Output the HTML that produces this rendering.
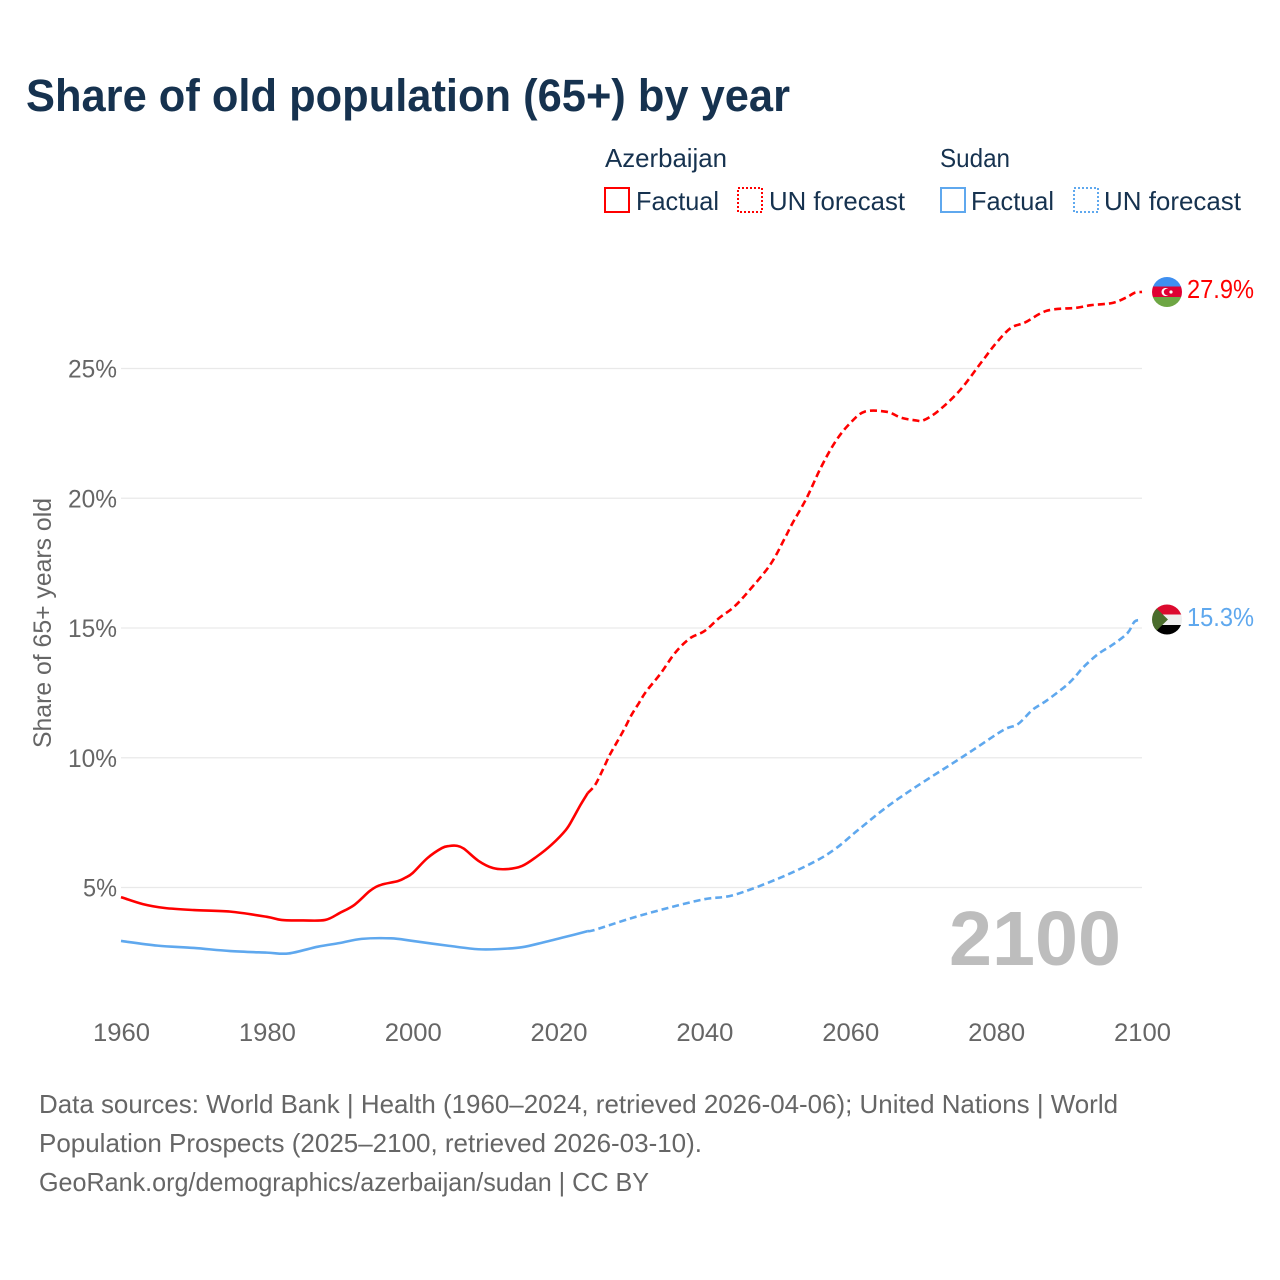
<!DOCTYPE html>
<html lang="en">
<head>
<meta charset="utf-8">
<title>Share of old population (65+) by year</title>
<style>
html,body{margin:0;padding:0;background:#fff;}
svg{display:block;}
text{font-family:"Liberation Sans",sans-serif;}
</style>
</head>
<body>
<svg id="chart" xmlns="http://www.w3.org/2000/svg" width="1280" height="1280" viewBox="0 0 1280 1280">
  <defs>
    <clipPath id="flag-az"><circle cx="1167" cy="292" r="15"/></clipPath>
    <clipPath id="flag-sd"><circle cx="1167" cy="619.5" r="15"/></clipPath>
  </defs>
  <rect width="1280" height="1280" fill="#fff"/>
  <text x="26" y="111" font-size="45" font-weight="700" fill="#16324f" textLength="764" lengthAdjust="spacingAndGlyphs">Share of old population (65+) by year</text>

  <g font-size="26" fill="#16324f">
    <text x="605" y="167" textLength="122" lengthAdjust="spacingAndGlyphs">Azerbaijan</text>
    <text x="940" y="167" textLength="70" lengthAdjust="spacingAndGlyphs">Sudan</text>
    <rect x="605" y="188" width="24" height="24" fill="none" stroke="#ff0000" stroke-width="2"/>
    <text x="636" y="210" textLength="83" lengthAdjust="spacingAndGlyphs">Factual</text>
    <rect x="738" y="188" width="24" height="24" fill="none" stroke="#ff0000" stroke-width="2" stroke-dasharray="2 2"/>
    <text x="769" y="210" textLength="136" lengthAdjust="spacingAndGlyphs">UN forecast</text>
    <rect x="941" y="188" width="24" height="24" fill="none" stroke="#5fa8ee" stroke-width="2"/>
    <text x="971" y="210" textLength="83" lengthAdjust="spacingAndGlyphs">Factual</text>
    <rect x="1074" y="188" width="24" height="24" fill="none" stroke="#5fa8ee" stroke-width="2" stroke-dasharray="2 2"/>
    <text x="1104" y="210" textLength="137" lengthAdjust="spacingAndGlyphs">UN forecast</text>
  </g>

  <g id="grid"></g>
  <g id="yticks" font-size="25" fill="#666"></g>
  <g id="xticks" font-size="25" fill="#666"></g>
  <text transform="translate(51,748) rotate(-90)" font-size="25" fill="#666" textLength="250" lengthAdjust="spacingAndGlyphs">Share of 65+ years old</text>
  <text x="949" y="965" font-size="77" font-weight="700" fill="#bdbdbd" textLength="172" lengthAdjust="spacingAndGlyphs">2100</text>
  <g id="series"></g>

  <g clip-path="url(#flag-az)">
    <rect x="1152" y="276" width="30" height="11" fill="#3f8ff0"/>
    <rect x="1152" y="286.5" width="30" height="11" fill="#e00034"/>
    <rect x="1152" y="297" width="30" height="11" fill="#6ea644"/>
    <circle cx="1165.5" cy="292" r="4" fill="#fff"/>
    <circle cx="1167" cy="292" r="3.2" fill="#e00034"/>
    <circle cx="1171" cy="292" r="1.6" fill="#fff"/>
  </g>
  <g clip-path="url(#flag-sd)">
    <rect x="1152" y="604" width="30" height="11" fill="#dc0a2e"/>
    <rect x="1152" y="614.5" width="30" height="10.5" fill="#efefef"/>
    <rect x="1152" y="625" width="30" height="10" fill="#000"/>
    <polygon points="1152,604 1168,619.5 1152,635" fill="#4a6d2c"/>
  </g>
  <text id="label-az" x="1187" y="298" font-size="26" fill="#ff0000" textLength="67" lengthAdjust="spacingAndGlyphs">27.9%</text>
  <text id="label-sd" x="1187" y="626" font-size="26" fill="#5fa8ee" textLength="67" lengthAdjust="spacingAndGlyphs">15.3%</text>

  <g font-size="26" fill="#666">
    <text x="39" y="1113" textLength="1079" lengthAdjust="spacingAndGlyphs">Data sources: World Bank | Health (1960–2024, retrieved 2026-04-06); United Nations | World</text>
    <text x="39" y="1152" textLength="663" lengthAdjust="spacingAndGlyphs">Population Prospects (2025–2100, retrieved 2026-03-10).</text>
    <text x="39" y="1191" textLength="610" lengthAdjust="spacingAndGlyphs">GeoRank.org/demographics/azerbaijan/sudan | CC BY</text>
  </g>
</svg>
<script>
const yTickValues = [5, 10, 15, 20, 25];
const xTickYears = [1960, 1980, 2000, 2020, 2040, 2060, 2080, 2100];

const azFactualYears = [1960,1963,1966,1970,1975,1980,1982,1985,1988,1990,1992,1994,1995,1996,1998,1999,2000,2002,2004,2005,2006,2007,2009,2011,2013,2015,2017,2019,2021,2022,2023,2024];
const azFactualValues = [4.63,4.36,4.21,4.13,4.07,3.87,3.75,3.73,3.75,4.02,4.33,4.84,5.03,5.13,5.25,5.38,5.56,6.13,6.52,6.6,6.61,6.5,6.03,5.75,5.71,5.83,6.19,6.64,7.22,7.67,8.18,8.64];
const azForecastYears = [2024,2025,2026,2027,2028,2029,2030,2031,2032,2034,2036,2038,2040,2042,2044,2046,2049,2051,2052,2054,2056,2058,2060,2062,2065,2067,2069,2070,2072,2075,2078,2080,2082,2084,2087,2091,2093,2096,2098,2099,2100];
const azForecastValues = [8.64,8.95,9.5,10.1,10.6,11.1,11.65,12.1,12.55,13.25,14.05,14.6,14.88,15.38,15.8,16.4,17.43,18.45,19.0,20.0,21.2,22.2,22.9,23.34,23.33,23.1,23.0,23.0,23.35,24.15,25.25,25.98,26.56,26.78,27.23,27.34,27.44,27.53,27.76,27.92,27.95];

const sdFactualYears = [1960,1965,1970,1975,1980,1983,1987,1990,1993,1997,2000,2005,2009,2012,2015,2018,2021,2024];
const sdFactualValues = [2.94,2.76,2.67,2.55,2.49,2.46,2.72,2.86,3.02,3.04,2.94,2.75,2.62,2.63,2.7,2.89,3.1,3.32];
const sdForecastYears = [2024,2025,2030,2035,2040,2044,2050,2055,2058,2061,2065,2069,2074,2077,2081,2083,2085,2087,2090,2092,2094,2096,2098,2099,2100];
const sdForecastValues = [3.32,3.37,3.82,4.21,4.55,4.71,5.33,5.98,6.5,7.2,8.1,8.88,9.78,10.33,11.07,11.3,11.85,12.22,12.88,13.5,14.0,14.36,14.8,15.25,15.3];

const NS = 'http://www.w3.org/2000/svg';
const xScale = year => 121 + (year - 1960) * (1142 - 121) / 140;
const yScale = value => 887.5 - (value - 5) * (887.5 - 368.5) / 20;

function smoothPath(years, values) {
  const p = years.map((yr, i) => [xScale(yr), yScale(values[i])]);
  let d = 'M' + p[0][0].toFixed(2) + ' ' + p[0][1].toFixed(2);
  for (let i = 0; i < p.length - 1; i++) {
    const a = p[Math.max(i - 1, 0)], b = p[i], c = p[i + 1], e = p[Math.min(i + 2, p.length - 1)];
    const k = 1 / 6;
    d += 'C' + (b[0] + (c[0] - a[0]) * k).toFixed(2) + ' ' + (b[1] + (c[1] - a[1]) * k).toFixed(2) + ' ' +
         (c[0] - (e[0] - b[0]) * k).toFixed(2) + ' ' + (c[1] - (e[1] - b[1]) * k).toFixed(2) + ' ' +
         c[0].toFixed(2) + ' ' + c[1].toFixed(2);
  }
  return d;
}

const grid = document.getElementById('grid');
const yticks = document.getElementById('yticks');
const xticks = document.getElementById('xticks');
const seriesGroup = document.getElementById('series');

yTickValues.forEach(v => {
  const line = document.createElementNS(NS, 'line');
  
  
  line.setAttribute('x1', xScale(1960));
  line.setAttribute('x2', xScale(2100));
  line.setAttribute('y1', yScale(v));
  line.setAttribute('y2', yScale(v));
  line.setAttribute('stroke', '#e9e9e9');
  line.setAttribute('stroke-width', '1.3');
  grid.appendChild(line);

  const label = document.createElementNS(NS, 'text');
  
  
  const str = v + '%';
  const w = v < 10 ? 34 : 49;
  label.setAttribute('x', 117 - w);
  label.setAttribute('y', yScale(v) + 9);
  label.setAttribute('textLength', w);
  label.setAttribute('lengthAdjust', 'spacingAndGlyphs');
  label.textContent = str;
  yticks.appendChild(label);
});

xTickYears.forEach(yr => {
  const label = document.createElementNS(NS, 'text');
  
  
  label.setAttribute('x', xScale(yr) - 28);
  label.setAttribute('y', 1041);
  label.setAttribute('textLength', 57);
  label.setAttribute('lengthAdjust', 'spacingAndGlyphs');
  label.textContent = yr;
  xticks.appendChild(label);
});

function drawLine(years, values, color, dashed) {
  const path = document.createElementNS(NS, 'path');
  
  
  path.setAttribute('d', smoothPath(years, values));
  path.setAttribute('fill', 'none');
  path.setAttribute('stroke', color);
  path.setAttribute('stroke-width', '2.6');
  path.setAttribute('stroke-linejoin', 'round');
  if (dashed) path.setAttribute('stroke-dasharray', '7 4');
  seriesGroup.appendChild(path);
}

drawLine(sdFactualYears, sdFactualValues, '#5fa8ee', false);
drawLine(sdForecastYears, sdForecastValues, '#5fa8ee', true);
drawLine(azFactualYears, azFactualValues, '#ff0000', false);
drawLine(azForecastYears, azForecastValues, '#ff0000', true);
</script>
</body>
</html>
